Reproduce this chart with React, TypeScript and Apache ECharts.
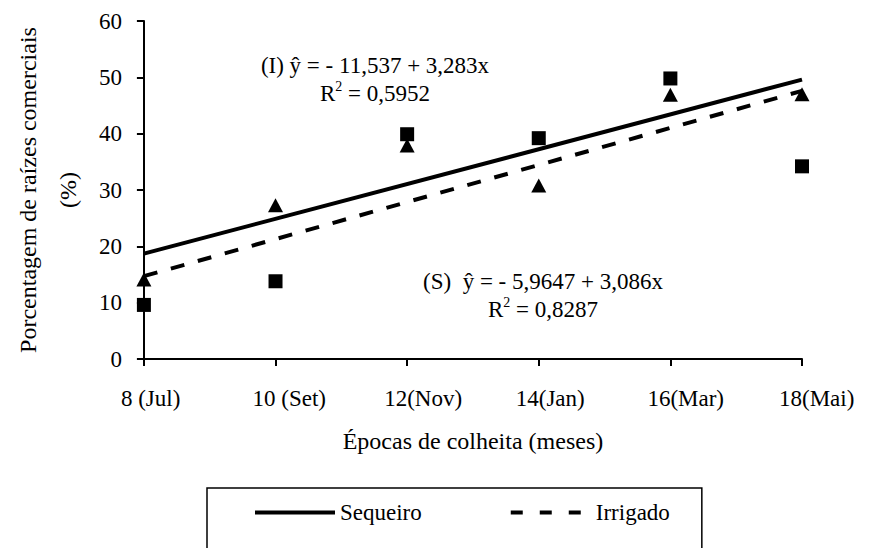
import React, { useEffect, useRef } from 'react';
import * as echarts from 'echarts';

const months = [8, 10, 12, 14, 16, 18];
const tickLabels = ['8 (Jul)', '10 (Set)', '12(Nov)', '14(Jan)', '16(Mar)', '18(Mai)'];
const sequeiroPoints = [14.1, 27.3, 37.9, 30.8, 46.9, 47.0];
const irrigadoPoints = [9.6, 13.8, 39.9, 39.2, 49.8, 34.2];
const sequeiroFit = [[8, 18.7], [18, 49.6]];
const irrigadoFit = [[8, 14.7], [18, 47.6]];
const seriesNames = ['Sequeiro', 'Irrigado'];
const eqIrrigado = ['(I) ŷ = - 11,537 + 3,283x', 'R{sup|2} = 0,5952'];
const eqSequeiro = ['(S)  ŷ = - 5,9647 + 3,086x', 'R{sup|2} = 0,8287'];
const xTitle = 'Épocas de colheita (meses)';
const yTitle = ['Porcentagem de raízes comerciais', '(%)'];

const FONT = '"Liberation Serif", "Times New Roman", serif';

export default function App() {
  const ref = useRef<HTMLDivElement>(null);
  useEffect(() => {
    if (!ref.current) return;
    const chart = echarts.init(ref.current, null, { renderer: 'svg' });
    const labelMap: Record<number, string> = {};
    months.forEach((m, i) => (labelMap[m] = tickLabels[i]));
    const eqStyle = (lines: string[], x: number, y: number) => ({
      type: 'text',
      x,
      y,
      z: 10,
      style: {
        text: lines.join('\n'),
        fontFamily: FONT,
        fontSize: 23,
        lineHeight: 28,
        fill: '#000',
        align: 'center',
        verticalAlign: 'middle',
        rich: {
          sup: { fontSize: 14, fontFamily: FONT, verticalAlign: 'top', lineHeight: 28, fill: '#000' },
        },
      },
    });
    chart.setOption({
      animation: false,
      backgroundColor: '#fff',
      textStyle: { fontFamily: FONT, color: '#000' },
      grid: { left: 122, top: 21, right: 68, bottom: 189, containLabel: false },
      xAxis: {
        type: 'value',
        min: 8,
        max: 18,
        interval: 2,
        name: xTitle,
        nameLocation: 'middle',
        nameGap: 70,
        nameTextStyle: { fontSize: 24, fontFamily: FONT, color: '#000' },
        axisLine: { lineStyle: { color: '#000', width: 2 } },
        axisTick: { show: true, inside: false, length: 7, lineStyle: { color: '#000', width: 2 } },
        splitLine: { show: false },
        axisLabel: {
          margin: 28,
          color: '#000',
          fontSize: 23,
          fontFamily: FONT,
          align: 'left',
          formatter: (v: number) => '{t|' + (labelMap[v] ?? '') + '}',
          rich: { t: { padding: [0, 0, 0, -23], fontSize: 23, fontFamily: FONT, color: '#000' } },
        },
      },
      yAxis: {
        type: 'value',
        min: 0,
        max: 60,
        interval: 10,
        name: yTitle.join('\n'),
        nameLocation: 'middle',
        nameGap: 42,
        nameTextStyle: { fontSize: 24, fontFamily: FONT, color: '#000', lineHeight: 40 },
        axisLine: { show: true, lineStyle: { color: '#000', width: 2 } },
        axisTick: { show: true, inside: false, length: 7, lineStyle: { color: '#000', width: 2 } },
        splitLine: { show: false },
        axisLabel: { margin: 22, color: '#000', fontSize: 23, fontFamily: FONT },
      },
      legend: {
        left: 207,
        top: 488,
        orient: 'horizontal',
        padding: [13, 32, 40, 46],
        itemGap: 87,
        itemWidth: 80,
        itemHeight: 14,
        borderColor: '#000',
        borderWidth: 1.5,
        backgroundColor: '#fff',
        textStyle: { fontSize: 23, fontFamily: FONT, color: '#000' },
        lineStyle: { width: 4 },
        itemStyle: { opacity: 0 },
        data: [
          { name: seriesNames[0], lineStyle: { width: 4, type: 'solid', opacity: 1 }, itemStyle: { opacity: 0 } },
          { name: seriesNames[1], lineStyle: { width: 4, type: [12, 17], opacity: 1 }, itemStyle: { opacity: 0 } },
        ],
      },
      graphic: [eqStyle(eqIrrigado, 375, 79), eqStyle(eqSequeiro, 543, 295)],
      series: [
        {
          name: seriesNames[0],
          type: 'line',
          data: sequeiroFit,
          symbol: 'none',
          lineStyle: { color: '#000', width: 4, type: 'solid' },
          itemStyle: { color: '#000' },
          z: 2,
        },
        {
          name: seriesNames[1],
          type: 'line',
          data: irrigadoFit,
          symbol: 'none',
          lineStyle: { color: '#000', width: 4, type: [14, 14] },
          itemStyle: { color: '#000' },
          z: 2,
        },
        {
          name: 'Sequeiro pontos',
          type: 'scatter',
          data: months.map((m, i) => [m, sequeiroPoints[i]]),
          symbol: 'triangle',
          symbolSize: [15, 14],
          itemStyle: { color: '#000', opacity: 1 },
          clip: false,
          z: 3,
        },
        {
          name: 'Irrigado pontos',
          type: 'scatter',
          data: months.map((m, i) => [m, irrigadoPoints[i]]),
          symbol: 'rect',
          symbolSize: 14,
          itemStyle: { color: '#000', opacity: 1 },
          clip: false,
          z: 3,
        },
      ],
    });
    return () => chart.dispose();
  }, []);
  return (
    <div
      ref={ref}
      style={{ position: 'fixed', left: 0, top: 0, width: 870, height: 548, background: '#fff' }}
    />
  );
}
